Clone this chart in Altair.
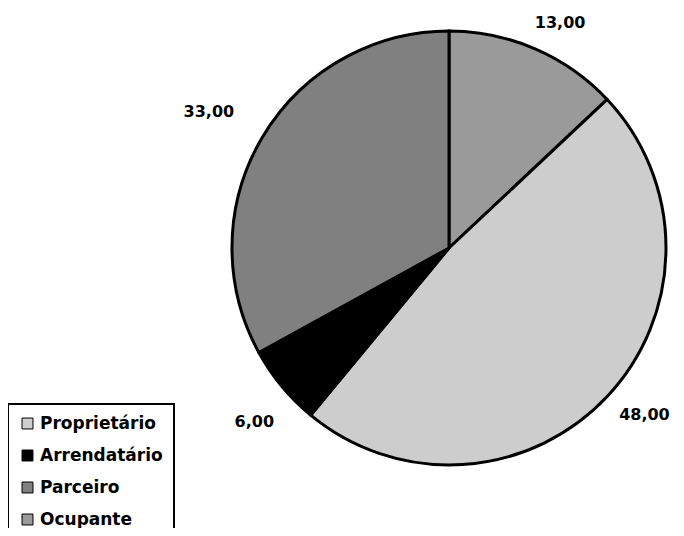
import altair as alt
import pandas as pd

categories = ["Ocupante", "Proprietário", "Arrendatário", "Parceiro"]
values = [13.0, 48.0, 6.0, 33.0]
slice_order = [0, 1, 2, 3]
labels = ["13,00", "48,00", "6,00", "33,00"]
legend_order = ["Proprietário", "Arrendatário", "Parceiro", "Ocupante"]
legend_colors = ["#cdcdcd", "#000000", "#808080", "#9a9a9a"]

df = pd.DataFrame({"cat": categories, "val": values, "ord": slice_order, "lab": labels})

cx, cy = 441, 240
FONT = "DejaVu Sans"

pie = alt.Chart(df).mark_arc(radius=217, stroke="black", strokeWidth=3).encode(
    theta=alt.Theta("val:Q", stack=True),
    order=alt.Order("ord:Q"),
    x=alt.value(cx),
    y=alt.value(cy),
    color=alt.Color(
        "cat:N",
        scale=alt.Scale(domain=legend_order, range=legend_colors),
        legend=alt.Legend(
            title=None,
            orient="none",
            legendX=0,
            legendY=396,
            symbolType="square",
            symbolSize=120,
            symbolStrokeColor="black",
            symbolStrokeWidth=1,
            symbolOpacity=1,
            labelFont=FONT,
            labelFontSize=17,
            labelFontWeight="bold",
            labelColor="black",
            rowPadding=14,
            padding=11,
            strokeColor="black",
            labelOffset=4,
        ),
    ),
)

# label placement (radial distance in px, angular nudge in percent of the circle)
label_style = {
    "13,00": (251, 0.8),
    "48,00": (257, -0.75),
    "6,00": (261, -0.6),
    "33,00": (276, -0.3),
}

stacked = alt.Chart(df).transform_window(
    cum="sum(val)", sort=[alt.SortField("ord")], frame=[None, 0]
).transform_calculate(mid="datum.cum - datum.val / 2")

text_layers = []
for lab, (r, nudge) in label_style.items():
    t = stacked.transform_filter(alt.datum.lab == lab).transform_calculate(
        ang=f"datum.mid + {nudge}"
    ).mark_text(
        radius=r,
        font=FONT,
        fontSize=16,
        fontWeight="bold",
        color="black",
        baseline="middle",
        align="center",
    ).encode(
        theta=alt.Theta("ang:Q", scale=alt.Scale(domain=[0, 100])),
        x=alt.value(cx),
        y=alt.value(cy),
        text="lab:N",
    )
    text_layers.append(t)

chart = alt.layer(pie, *text_layers).resolve_scale(theta="independent").properties(
    width=668, height=520, autosize="none", padding=0
).configure_view(stroke=None).configure_legend(strokeWidth=2)

chart.save("out.html", embed_options={"renderer": "svg", "actions": False})
